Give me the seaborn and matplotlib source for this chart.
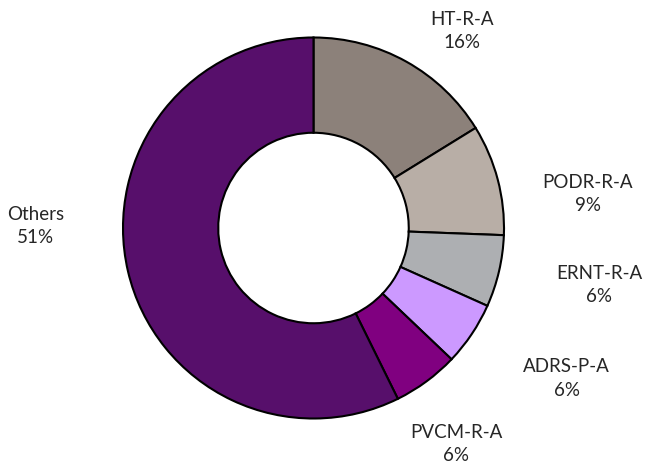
import numpy as np
import matplotlib
matplotlib.use("Agg")
import matplotlib.pyplot as plt
import seaborn as sns

sns.set_theme(style="white")
plt.rcParams["font.family"] = ["Lato", "DejaVu Sans"]

# ---------------------------------------------------------
# data (wedge sizes, labels as printed)
# ---------------------------------------------------------
names = ["HT-R-A", "PODR-R-A", "ERNT-R-A", "ADRS-P-A", "PVCM-R-A", "Others"]
sizes = [16.2, 9.4, 6.1, 5.4, 5.6, 57.3]
pct_labels = ["16%", "9%", "6%", "6%", "6%", "51%"]
colors = ["#8c817a", "#b8aea6", "#adafb2", "#cc99ff", "#800080", "#570f6b"]

# label placement (in units of the outer radius)
label_pos = [(0.78, 1.035), (1.44, 0.18), (1.50, -0.30),
             (1.33, -0.79), (0.75, -1.135), (-1.46, 0.01)]

# ---------------------------------------------------------
# donut
# ---------------------------------------------------------
fig = plt.figure(figsize=(6.59, 4.65), dpi=100)
ax = fig.add_axes([0, 0, 1, 1])

ax.pie(sizes, colors=colors, startangle=90, counterclock=False,
       wedgeprops=dict(width=0.5, edgecolor="black", linewidth=1.5))

for name, pct, (x, y) in zip(names, pct_labels, label_pos):
    ax.text(x, y, f"{name}\n{pct}", ha="center", va="center",
            fontsize=13.5, color="#262626", linespacing=1.45)

# keep the donut centre where it sits in the original
cx, cy, r = 313.5, 237, 190.5
ax.set_xlim(-cx / r, (659 - cx) / r)
ax.set_ylim(-cy / r, (465 - cy) / r)
ax.set_aspect("equal")
ax.axis("off")

fig.savefig("out.png", dpi=100)
